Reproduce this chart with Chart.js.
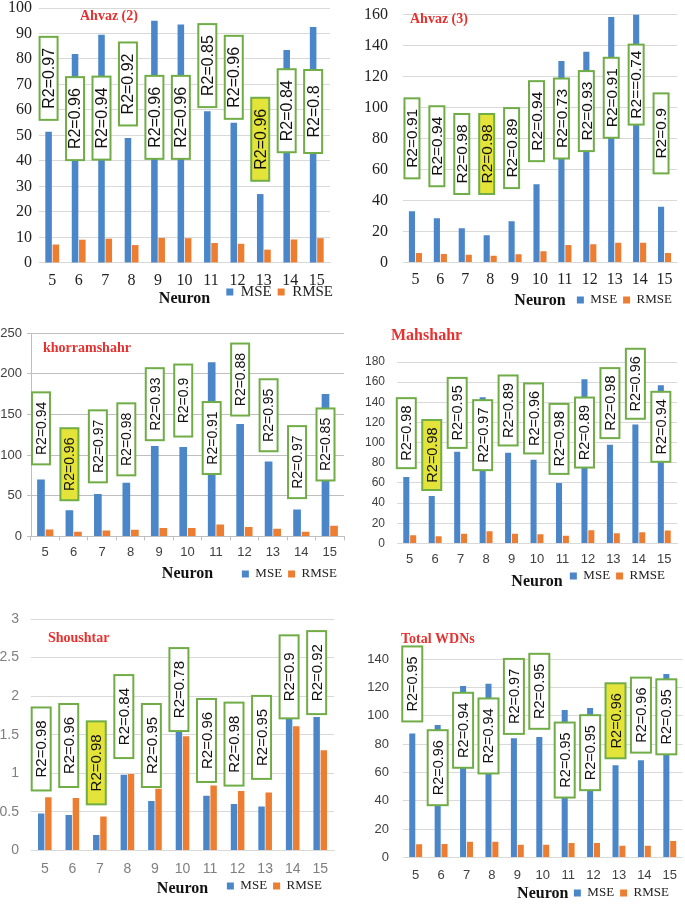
<!DOCTYPE html>
<html><head><meta charset="utf-8">
<script src="https://cdn.jsdelivr.net/npm/chart.js@4.4.1/dist/chart.umd.min.js"></script>
<style>
html,body{margin:0;padding:0;background:#fff;}
#page{position:relative;width:685px;height:904px;overflow:hidden;background:#fff;}
#page canvas{position:absolute;}
</style></head><body><div id="page"></div>
<script>
// ---------- data ----------
const neurons = ['5','6','7','8','9','10','11','12','13','14','15'];

const ahvaz2Mse  = [51.5, 82, 89.5, 49, 95, 93.5, 59.5, 55, 27, 83.5, 92.5];
const ahvaz2Rmse = [7.2, 9.1, 9.5, 7, 9.8, 9.7, 7.8, 7.5, 5.2, 9.2, 9.7];
const ahvaz2R2   = ['R2=0.97','R2=0.96','R2=0.94','R2=0.92','R2=0.96','R2=0.96','R2=0.85','R2=0.96','R2=0.96','R2=0.84','R2=0.8'];
const ahvaz2R2At = [72.4, 56.6, 56.8, 70.2, 57.1, 57.1, 77.4, 72.8, 48.5, 59.7, 59.4];
const ahvaz2Best = '13';
const ahvaz2YTicks = [0, 10, 20, 30, 40, 50, 60, 70, 80, 90, 100];

const ahvaz3Mse  = [33, 28.5, 22, 17.5, 26.5, 50.5, 130, 136, 158.5, 160, 36];
const ahvaz3Rmse = [6, 5.5, 5, 4.3, 5.3, 7.2, 11.2, 11.7, 12.7, 12.7, 6];
const ahvaz3R2   = ['R2=0.91','R2=0.94','R2=0.98','R2=0.98','R2=0.89','R2=0.94','R2=0.73','R2=0.93','R2=0.91','R2==0.74','R2=0.9'];
const ahvaz3R2At = [80.1, 75, 70, 70, 73.8, 91.2, 92.9, 97.7, 106.3, 114.8, 83.3];
const ahvaz3Best = '8';
const ahvaz3YTicks = [0, 20, 40, 60, 80, 100, 120, 140, 160];

const khorMse  = [70, 32, 52, 66, 111, 110, 214, 138, 92, 33, 175];
const khorRmse = [8.4, 5.7, 7.3, 8.2, 10.3, 10.3, 14.5, 11.5, 9.3, 5.8, 13.2];
const khorR2   = ['R2=0.94','R2=0.96','R2=0.97','R2=0.98','R2=0.93','R2=0.9','R2=0.91','R2=0.88','R2=0.95','R2=0.97','R2=0.85'];
const khorR2At = [132.8, 88.7, 110.7, 119.3, 162.5, 167, 120.9, 192.8, 148.9, 91.3, 113];
const khorBest = '6';
const khorYTicks = [0, 50, 100, 150, 200, 250];

const mahMse  = [66, 47, 91, 145, 90, 83, 60, 163, 98, 118, 157];
const mahRmse = [8, 7, 9.5, 12, 9.5, 9, 7.7, 13, 10, 11, 12.7];
const mahR2   = ['R2=0.98','R2=0.98','R2=0.95','R2=0.97','R2=0.89','R2=0.96','R2=0.98','R2=0.89','R2=0.98','R2=0.96','R2=0.94'];
const mahR2At = [109.4, 87.7, 129.5, 107.4, 131.9, 124, 103.7, 110, 139.2, 158.4, 115.7];
const mahBest = '6';
const mahYTicks = [0, 20, 40, 60, 80, 100, 120, 140, 160, 180];

const shouMse  = [0.48, 0.46, 0.2, 0.98, 0.64, 2.2, 0.71, 0.6, 0.57, 2.59, 1.73];
const shouRmse = [0.69, 0.68, 0.44, 0.99, 0.8, 1.48, 0.84, 0.77, 0.75, 1.61, 1.3];
const shouR2   = ['R2=0.98','R2=0.96','R2=0.98','R2=0.84','R2=0.95','R2=0.78','R2=0.96','R2=0.98','R2=0.95','R2=0.9','R2=0.92'];
const shouR2At = [1.315, 1.36, 1.135, 1.735, 1.36, 2.085, 1.425, 1.378, 1.465, 2.25, 2.305];
const shouBest = '7';
const shouYTicks = [0, 0.5, 1, 1.5, 2, 2.5, 3];

const totalMse  = [87.5, 93.5, 121, 122.5, 84, 85, 104, 105.5, 65, 68.5, 129.5];
const totalRmse = [9.2, 9.5, 11, 11, 9, 9, 10.2, 10.2, 8.2, 8.2, 11.5];
const totalR2   = ['R2=0.95','R2=0.96','R2=0.94','R2=0.94','R2=0.97','R2=0.95','R2=0.95','R2=0.95','R2=0.96','R2=0.96','R2=0.95'];
const totalR2At = [122.4, 63.3, 89.7, 85.7, 113.6, 117.2, 68.7, 73.9, 96.4, 100.4, 99.2];
const totalBest = '13';
const totalYTicks = [0, 20, 40, 60, 80, 100, 120, 140];

// ---------- styles ----------
const SERIF = '"Liberation Serif", "Times New Roman", serif';
const SANS = '"Liberation Sans", Arial, sans-serif';
const BLUE = '#4a86c8', ORANGE = '#ed7d31', GREEN = '#70ad47', YELLOW = '#e3e33a', RED = '#e8312f';

const r2Boxes = {
  id: 'r2Boxes',
  afterDatasetsDraw(chart, args, o) {
    const ctx = chart.ctx, ys = chart.scales.y, meta = chart.getDatasetMeta(0);
    ctx.save();
    o.labels.forEach((txt, i) => {
      const px = meta.data[i].x, py = ys.getPixelForValue(o.at[i]);
      const hl = chart.data.labels[i] === o.best;
      ctx.fillStyle = hl ? YELLOW : '#ffffff';
      ctx.fillRect(px - o.w / 2, py - o.h / 2, o.w, o.h);
      ctx.strokeStyle = GREEN; ctx.lineWidth = 2;
      ctx.strokeRect(px - o.w / 2, py - o.h / 2, o.w, o.h);
      ctx.save();
      ctx.translate(px, py); ctx.rotate(-Math.PI / 2);
      ctx.fillStyle = '#111'; ctx.font = o.size + 'px ' + SANS;
      ctx.textAlign = 'center'; ctx.textBaseline = 'middle';
      ctx.fillText(txt, 0, 1);
      ctx.restore();
    });
    ctx.restore();
  }
};

const panelTitle = {
  id: 'panelTitle',
  afterDraw(chart, args, o) {
    const ctx = chart.ctx;
    ctx.save();
    ctx.font = 'bold ' + o.size + 'px ' + SERIF;
    ctx.fillStyle = RED; ctx.textAlign = 'left'; ctx.textBaseline = 'middle';
    ctx.fillText(o.text, o.x, o.y);
    ctx.restore();
  }
};

const legendPlace = {
  id: 'legendPlace',
  afterLayout(chart, args, o) {
    const lg = chart.legend; if (!lg) return;
    const pad = o.pad, fs = o.size;
    const top = o.y - pad - fs / 2;
    lg.top = top; lg.bottom = top + fs + 2 * pad + 6; lg.height = lg.bottom - lg.top;
    lg.left = 0; lg.right = o.right + pad; lg.width = lg.right;
  }
};

const page = document.getElementById('page');

function makePanel(p) {
  const titleLH = 16 * 1.2;
  const xh = p.neuronY - p.B + titleLH / 2;
  const ch = Math.ceil((p.B - p.cy) + xh + 1 + 10);
  const cv = document.createElement('canvas');
  cv.width = p.cw; cv.height = ch;
  cv.style.left = p.cx + 'px'; cv.style.top = p.cy + 'px';
  cv.style.width = p.cw + 'px'; cv.style.height = ch + 'px';
  page.appendChild(cv);
  const yt = p.yTicks;
  new Chart(cv, {
    type: 'bar',
    data: {
      labels: neurons,
      datasets: [
        {label: 'MSE', data: p.mse, backgroundColor: BLUE, borderWidth: 0,
         categoryPercentage: p.catPct, barPercentage: p.barPct},
        {label: 'RMSE', data: p.rmse, backgroundColor: ORANGE, borderWidth: 0,
         categoryPercentage: p.catPct, barPercentage: p.barPct}
      ]
    },
    options: {
      responsive: false, animation: false, devicePixelRatio: 1,
      layout: {padding: {left: 0, top: p.T - p.cy, right: p.cx + p.cw - p.R, bottom: 10}},
      scales: {
        x: {
          offset: true,
          grid: {display: p.ticksMarks, drawOnChartArea: false, drawTicks: p.ticksMarks,
                 tickLength: 4, offset: true, color: p.grid},
          border: {display: true, color: p.grid},
          ticks: {font: {family: p.tickFam, size: p.xSize}, color: p.tickColor,
                  padding: p.xPad, autoSkip: false, maxRotation: 0},
          title: {display: true, text: 'Neuron', color: '#111', padding: 0,
                  font: {family: SERIF, size: 16, weight: 'bold'}},
          afterFit(s) { s.height = xh; }
        },
        y: {
          min: yt[0], max: yt[yt.length - 1],
          ticks: {stepSize: yt[1] - yt[0], font: {family: p.tickFam, size: p.ySize},
                  color: p.tickColor, padding: p.yPad,
                  callback: v => String(Math.round(v * 1000) / 1000)},
          grid: {color: p.grid, drawTicks: p.ticksMarks, tickLength: 4},
          border: {display: p.ticksMarks, color: p.grid},
          afterFit(s) { s.width = p.L - p.cx; }
        }
      },
      plugins: {
        tooltip: {enabled: false},
        legend: {
          display: true, position: 'bottom', align: 'end', maxHeight: 1,
          labels: {boxWidth: 7, boxHeight: 7, padding: 6, color: '#222',
                   font: {family: SERIF, size: p.legSize}}
        },
        legendPlace: {y: p.legendY - p.cy, right: p.legendRight - p.cx, pad: 6, size: p.legSize},
        panelTitle: {text: p.title, x: p.titleX - p.cx, y: p.titleY - p.cy, size: p.titleSize},
        r2Boxes: {labels: p.r2, at: p.r2At, best: p.best, w: p.boxW, h: p.boxH, size: p.boxFont}
      }
    },
    plugins: [legendPlace, panelTitle, r2Boxes]
  });
}

makePanel({title: 'Ahvaz (2)', titleX: 80, titleY: 16, titleSize: 14,
  mse: ahvaz2Mse, rmse: ahvaz2Rmse, r2: ahvaz2R2, r2At: ahvaz2R2At, best: ahvaz2Best, yTicks: ahvaz2YTicks,
  cx: 0, cy: -10, cw: 342, L: 39, R: 330, T: 8, B: 262,
  tickFam: SERIF, tickColor: '#222', ySize: 16, xSize: 16, yPad: 7, xPad: 8,
  ticksMarks: false, grid: '#d9d9d9', neuronY: 297.5, legendY: 292, legendRight: 333, legSize: 15,
  catPct: 0.55, barPct: 0.9, boxW: 18, boxH: 83, boxFont: 16});

makePanel({title: 'Ahvaz (3)', titleX: 410, titleY: 19, titleSize: 14,
  mse: ahvaz3Mse, rmse: ahvaz3Rmse, r2: ahvaz3R2, r2At: ahvaz3R2At, best: ahvaz3Best, yTicks: ahvaz3YTicks,
  cx: 342, cy: -10, cw: 343, L: 403, R: 677, T: 7, B: 262,
  tickFam: SERIF, tickColor: '#222', ySize: 16, xSize: 16, yPad: 15, xPad: 8,
  ticksMarks: false, grid: '#d9d9d9', neuronY: 300, legendY: 300, legendRight: 672, legSize: 13,
  catPct: 0.56, barPct: 0.88, boxW: 15, boxH: 80, boxFont: 15.5});

makePanel({title: 'khorramshahr', titleX: 43, titleY: 348, titleSize: 14,
  mse: khorMse, rmse: khorRmse, r2: khorR2, r2At: khorR2At, best: khorBest, yTicks: khorYTicks,
  cx: 0, cy: 300, cw: 346, L: 31, R: 344, T: 333, B: 536,
  tickFam: SANS, tickColor: '#404040', ySize: 13, xSize: 13, yPad: 5, xPad: 4,
  ticksMarks: true, grid: '#bfbfbf', neuronY: 573, legendY: 574, legendRight: 337, legSize: 13,
  catPct: 0.6, barPct: 0.9, boxW: 18, boxH: 72, boxFont: 14});

makePanel({title: 'Mahshahr', titleX: 391, titleY: 336, titleSize: 16,
  mse: mahMse, rmse: mahRmse, r2: mahR2, r2At: mahR2At, best: mahBest, yTicks: mahYTicks,
  cx: 342, cy: 300, cw: 343, L: 397, R: 677, T: 362, B: 543,
  tickFam: SANS, tickColor: '#404040', ySize: 12, xSize: 13, yPad: 12, xPad: 8,
  ticksMarks: false, grid: '#d9d9d9', neuronY: 581, legendY: 576, legendRight: 665, legSize: 13,
  catPct: 0.54, barPct: 0.88, boxW: 19, boxH: 70, boxFont: 14.5});

makePanel({title: 'Shoushtar', titleX: 48, titleY: 638, titleSize: 14,
  mse: shouMse, rmse: shouRmse, r2: shouR2, r2At: shouR2At, best: shouBest, yTicks: shouYTicks,
  cx: 0, cy: 590, cw: 342, L: 31, R: 334, T: 619, B: 850,
  tickFam: SANS, tickColor: '#7f7f7f', ySize: 14, xSize: 14, yPad: 12, xPad: 10,
  ticksMarks: false, grid: '#d9d9d9', neuronY: 888, legendY: 886, legendRight: 322, legSize: 13,
  catPct: 0.52, barPct: 0.9, boxW: 19, boxH: 83, boxFont: 15});

makePanel({title: 'Total WDNs', titleX: 401, titleY: 639, titleSize: 14,
  mse: totalMse, rmse: totalRmse, r2: totalR2, r2At: totalR2At, best: totalBest, yTicks: totalYTicks,
  cx: 342, cy: 590, cw: 345, L: 403, R: 687, T: 659, B: 857,
  tickFam: SANS, tickColor: '#404040', ySize: 13, xSize: 13, yPad: 14, xPad: 10,
  ticksMarks: false, grid: '#d9d9d9', neuronY: 893, legendY: 893, legendRight: 669, legSize: 13,
  catPct: 0.54, barPct: 0.88, boxW: 20, boxH: 75, boxFont: 14.5});
</script>
</body></html>
